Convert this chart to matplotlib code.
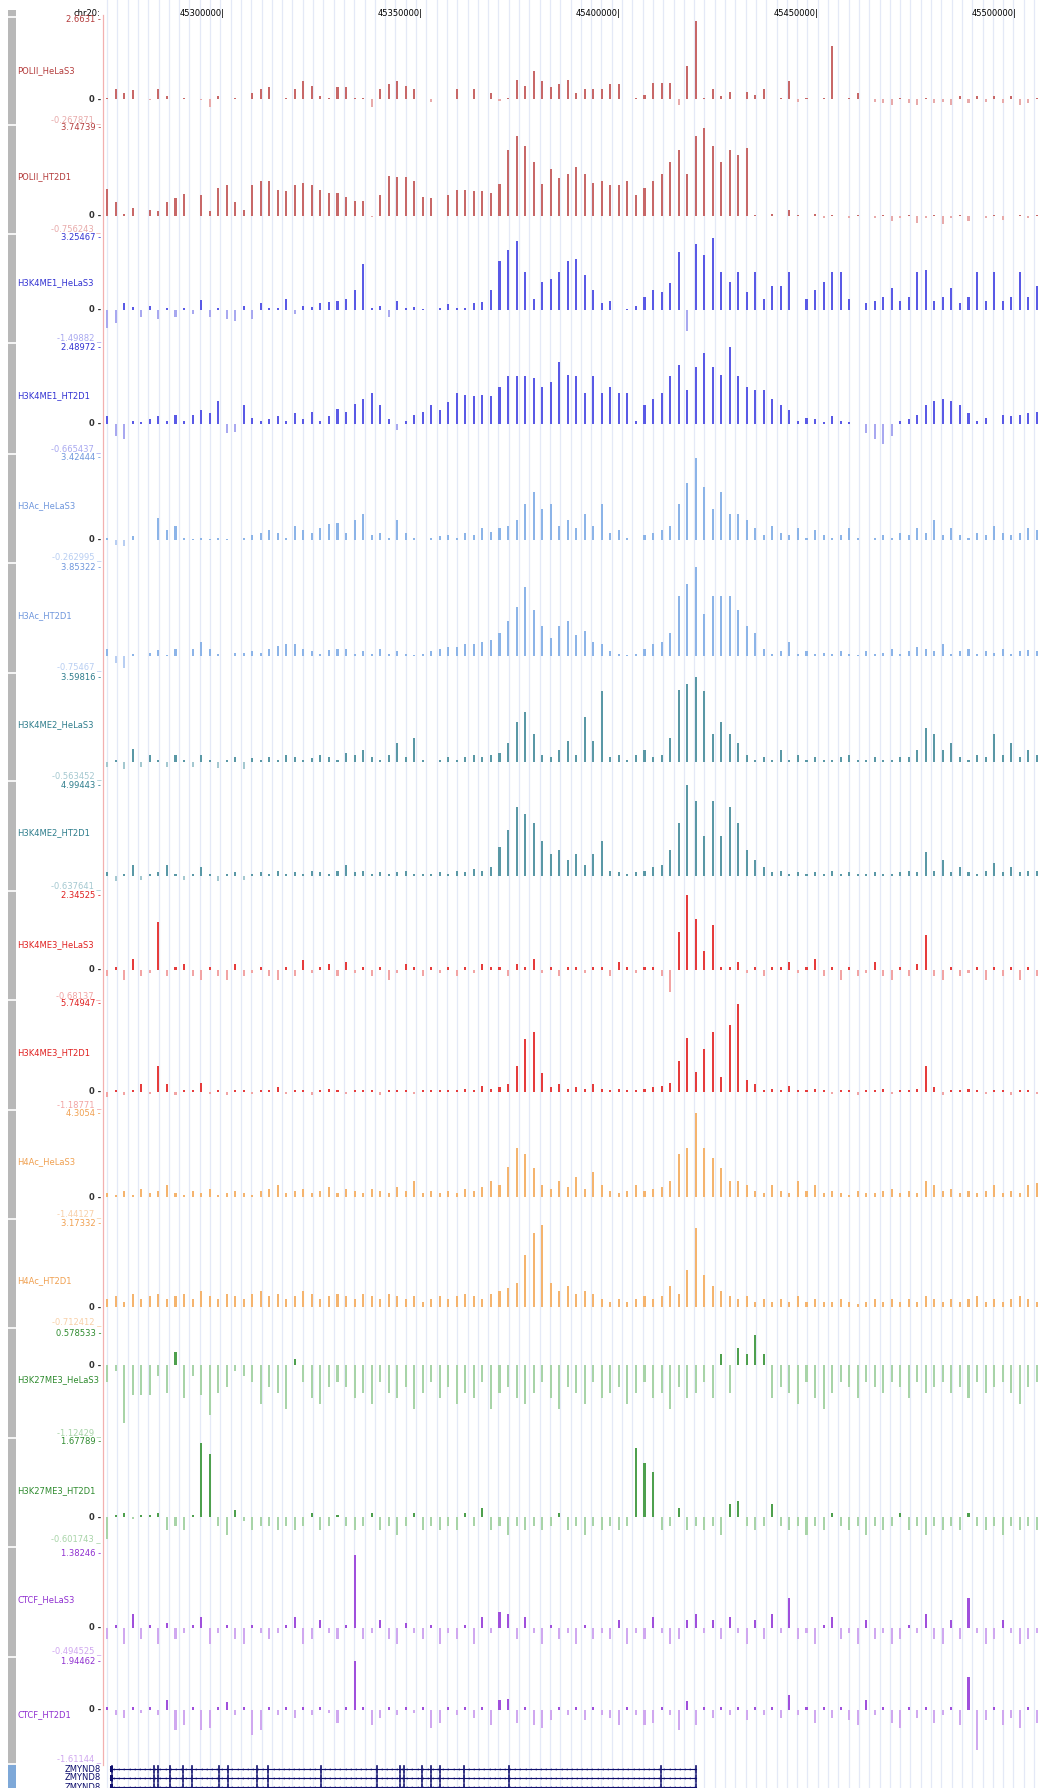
import numpy as np
import matplotlib
matplotlib.use("Agg")
import matplotlib.pyplot as plt

# ---- data --------------------------------------------------------------
# genome window (chr20, bp) and ruler ticks
view_start = 45269186
view_end = 45506294
ruler_ticks = [45300000, 45350000, 45400000, 45450000, 45500000]

track_names = ["POLII_HeLaS3", "POLII_HT2D1", "H3K4ME1_HeLaS3", "H3K4ME1_HT2D1",
               "H3Ac_HeLaS3", "H3Ac_HT2D1", "H3K4ME2_HeLaS3", "H3K4ME2_HT2D1",
               "H3K4ME3_HeLaS3", "H3K4ME3_HT2D1", "H4Ac_HeLaS3", "H4Ac_HT2D1",
               "H3K27ME3_HeLaS3", "H3K27ME3_HT2D1", "CTCF_HeLaS3", "CTCF_HT2D1"]
track_max = ["2.6631", "3.74739", "3.25467", "2.48972", "3.42444", "3.85322",
             "3.59816", "4.99443", "2.34525", "5.74947", "4.3054", "3.17332",
             "0.578533", "1.67789", "1.38246", "1.94462"]
track_min = ["-0.267871", "-0.756243", "-1.49882", "-0.665437", "-0.262995",
             "-0.75467", "-0.563452", "-0.637641", "-0.68137", "-1.18771",
             "-1.44127", "-0.712412", "-1.12429", "-0.601743", "-0.494525",
             "-1.61144"]

# signal per 2.16 kb bin, 110 bins across the window
pol2_hela = [0.05, 0.35, 0.2, 0.3, 0, -0.05, 0.35, 0.1, 0, 0.05,
             0, -0.05, -0.26, 0.1, 0, 0.05, 0, 0.2, 0.35, 0.4,
             0, 0.05, 0.35, 0.6, 0.45, 0.1, 0.05, 0.4, 0.4, 0.05,
             0.05, -0.26, 0.35, 0.5, 0.6, 0.45, 0.35, 0, -0.1, 0,
             0, 0.35, 0, 0.35, 0, 0.2, -0.08, 0.05, 0.65, 0.45,
             0.95, 0.6, 0.4, 0.5, 0.65, 0.2, 0.35, 0.35, 0.35, 0.5,
             0.5, 0, 0.05, 0.15, 0.55, 0.55, 0.55, -0.2, 1.1, 2.63,
             0.05, 0.35, 0.1, 0.25, 0, 0.25, 0.15, 0.35, 0, 0.05,
             0.6, -0.1, 0.05, 0, 0.05, 1.8, 0, 0.05, 0.2, 0,
             -0.1, -0.15, -0.2, 0.05, -0.15, -0.2, 0.05, -0.15, -0.1, -0.2,
             0.1, -0.15, 0.1, -0.1, 0.1, -0.15, 0.1, -0.2, -0.15, 0.05]
pol2_ht2d1 = [1.13, 0.6, 0.1, 0.35, 0, 0.25, 0.2, 0.6, 0.75, 0.95,
              0, 0.9, 0.2, 1.2, 1.3, 0.6, 0.25, 1.3, 1.5, 1.5,
              1.1, 1.05, 1.3, 1.4, 1.3, 1.1, 1.0, 1.0, 0.8, 0.65,
              0.65, -0.05, 0.9, 1.7, 1.65, 1.65, 1.5, 0.8, 0.75, 0,
              0.9, 1.1, 1.1, 1.05, 1.05, 1.0, 1.35, 2.8, 3.4, 3.0,
              2.3, 1.35, 2.0, 1.6, 1.8, 2.07, 1.8, 1.4, 1.5, 1.3,
              1.3, 1.5, 0.9, 1.2, 1.5, 1.8, 2.3, 2.8, 1.8, 3.4,
              3.74, 3.0, 2.3, 2.8, 2.6, 2.9, 0.05, 0, 0.1, 0,
              0.25, 0.05, 0, 0.1, -0.1, 0.05, 0, -0.1, 0.05, 0,
              -0.1, 0.05, -0.2, -0.1, 0.05, -0.3, -0.1, 0.05, -0.35, -0.1,
              0.05, -0.2, 0, -0.1, 0.05, -0.15, 0, 0.05, -0.1, 0.05]
h3k4me1_hela = [-0.8, -0.6, 0.3, 0.15, -0.3, 0.2, -0.4, 0.1, -0.3, 0.1,
                -0.2, 0.45, -0.3, 0.1, -0.4, -0.5, 0.2, -0.4, 0.3, 0.1,
                0.1, 0.5, -0.2, 0.2, 0.15, 0.3, 0.35, 0.4, 0.5, 0.9,
                2.1, 0.1, 0.2, -0.3, 0.4, 0.1, 0.15, 0.05, 0, 0.1,
                0.25, 0.1, 0.1, 0.3, 0.35, 0.9, 2.2, 2.7, 3.1, 1.7,
                0.5, 1.25, 1.4, 1.7, 2.2, 2.3, 1.6, 0.9, 0.3, 0.4,
                0, 0.05, 0.2, 0.6, 0.9, 0.8, 1.2, 2.6, -0.95, 3.0,
                2.5, 3.25, 1.7, 1.25, 1.7, 0.8, 1.7, 0.5, 1.1, 1.1,
                1.7, 0, 0.5, 0.9, 1.25, 1.7, 1.7, 0.5, 0, 0.3,
                0.4, 0.6, 1.0, 0.4, 0.6, 1.7, 1.8, 0.4, 0.6, 1.0,
                0.3, 0.6, 1.7, 0.4, 1.7, 0.4, 0.6, 1.7, 0.6, 1.1]
h3k4me1_ht2d1 = [0.25, -0.4, -0.5, 0.1, 0.05, 0.15, 0.25, 0.1, 0.3, 0.1,
                 0.3, 0.45, 0.35, 0.75, -0.3, -0.25, 0.6, 0.2, 0.1, 0.15,
                 0.25, 0.1, 0.35, 0.15, 0.4, 0.1, 0.25, 0.5, 0.4, 0.65,
                 0.8, 1.0, 0.6, 0.15, -0.2, 0.1, 0.3, 0.4, 0.6, 0.45,
                 0.7, 1.0, 0.95, 0.9, 0.95, 0.9, 1.2, 1.55, 1.55, 1.55,
                 1.5, 1.2, 1.35, 2.0, 1.6, 1.55, 1.0, 1.55, 1.0, 1.2,
                 1.0, 1.0, 0.1, 0.6, 0.8, 1.0, 1.55, 1.9, 1.1, 1.85,
                 2.3, 1.85, 1.6, 2.49, 1.55, 1.2, 1.1, 1.1, 0.8, 0.6,
                 0.45, 0.1, 0.2, 0.15, 0.05, 0.25, 0.1, 0.05, 0, -0.3,
                 -0.5, -0.65, -0.4, 0.1, 0.15, 0.3, 0.6, 0.75, 0.8, 0.75,
                 0.6, 0.35, 0.1, 0.2, 0, 0.3, 0.25, 0.3, 0.35, 0.4]
h3ac_hela = [0.1, -0.2, -0.25, 0.15, 0, 0, 0.9, 0.4, 0.6, 0.1,
             0.05, 0.1, 0.05, 0.1, 0.05, 0, 0.1, 0.2, 0.3, 0.4,
             0.3, 0.1, 0.6, 0.4, 0.3, 0.5, 0.65, 0.7, 0.3, 0.85,
             1.1, 0.2, 0.3, 0.1, 0.85, 0.3, 0.1, 0, 0.1, 0.15,
             0.2, 0.1, 0.3, 0.2, 0.5, 0.35, 0.5, 0.6, 0.85, 1.5,
             2.0, 1.3, 1.5, 0.6, 0.85, 0.5, 1.1, 0.6, 1.5, 0.3,
             0.4, 0.1, 0, 0.2, 0.3, 0.4, 0.6, 1.5, 2.4, 3.42,
             2.2, 1.3, 2.0, 1.1, 1.1, 0.85, 0.5, 0.2, 0.6, 0.3,
             0.2, 0.5, 0.1, 0.4, 0.2, 0.1, 0.2, 0.5, 0.1, 0,
             0.1, 0.2, 0.1, 0.3, 0.2, 0.5, 0.3, 0.85, 0.2, 0.5,
             0.2, 0.1, 0.3, 0.2, 0.6, 0.3, 0.2, 0.3, 0.5, 0.4]
h3ac_ht2d1 = [0.3, -0.3, -0.5, 0.1, 0, 0.15, 0.25, 0.05, 0.3, 0,
              0.3, 0.6, 0.3, 0.1, 0, 0.15, 0.15, 0.2, 0.15, 0.3,
              0.45, 0.5, 0.5, 0.3, 0.2, 0.1, 0.25, 0.3, 0.3, 0.1,
              0.2, 0.1, 0.3, 0.1, 0.2, 0.1, 0.05, 0.1, 0.2, 0.3,
              0.4, 0.4, 0.5, 0.5, 0.6, 0.7, 1.0, 1.5, 2.1, 3.0,
              2.0, 1.3, 0.8, 1.3, 1.5, 0.9, 1.1, 0.6, 0.5, 0.2,
              0.1, 0.05, 0.1, 0.3, 0.5, 0.6, 1.0, 2.6, 3.1, 3.85,
              1.8, 2.6, 2.6, 2.6, 2.0, 1.3, 1.0, 0.3, 0.1, 0.2,
              0.6, 0.1, 0.2, 0.1, 0.15, 0.1, 0.2, 0.1, 0.05, 0.2,
              0.1, 0.15, 0.3, 0.1, 0.2, 0.4, 0.3, 0.2, 0.5, 0.1,
              0.2, 0.3, 0.1, 0.2, 0.15, 0.3, 0.1, 0.2, 0.25, 0.2]
h3k4me2_hela = [-0.2, 0.1, -0.3, 0.55, -0.2, 0.3, 0.1, -0.2, 0.3, 0.1,
                -0.2, 0.3, 0.1, -0.25, 0.1, 0.2, -0.3, 0.15, 0.1, 0.2,
                0.1, 0.3, 0.2, 0.1, 0.15, 0.3, 0.2, 0.1, 0.4, 0.3,
                0.5, 0.2, 0.1, 0.3, 0.8, 0.2, 1.0, 0.1, 0, 0.1,
                0.2, 0.1, 0.2, 0.3, 0.2, 0.3, 0.4, 0.8, 1.7, 2.1,
                1.2, 0.3, 0.2, 0.5, 0.9, 0.3, 1.9, 0.9, 3.0, 0.2,
                0.3, 0.1, 0.3, 0.5, 0.2, 0.3, 1.0, 3.05, 3.3, 3.6,
                3.0, 1.2, 1.7, 1.2, 0.8, 0.3, 0.1, 0.2, 0.1, 0.5,
                0.1, 0.3, 0.1, 0.2, 0.1, 0.1, 0.2, 0.3, 0.1, 0.1,
                0.2, 0.1, 0.1, 0.2, 0.2, 0.5, 1.45, 1.2, 0.5, 0.8,
                0.2, 0.1, 0.3, 0.2, 1.2, 0.3, 0.8, 0.2, 0.5, 0.3]
h3k4me2_ht2d1 = [0.2, -0.3, 0.1, 0.6, -0.2, 0.1, 0.2, 0.6, 0.1, -0.2,
                 0.1, 0.5, 0.1, -0.3, 0.1, 0.2, -0.2, 0.1, 0.2, 0.1,
                 0.3, 0.1, 0.2, 0.1, 0.3, 0.2, 0.1, 0.3, 0.6, 0.2,
                 0.3, 0.1, 0.2, 0.1, 0.2, 0.3, 0.1, 0.1, 0.1, 0.2,
                 0.1, 0.3, 0.2, 0.4, 0.3, 0.5, 1.6, 2.5, 3.8, 3.4,
                 2.9, 1.9, 1.2, 1.4, 0.9, 1.2, 0.6, 1.2, 1.9, 0.3,
                 0.2, 0.1, 0.2, 0.3, 0.5, 0.6, 1.4, 2.9, 4.99, 4.1,
                 2.2, 4.1, 2.2, 3.8, 2.9, 1.4, 0.9, 0.5, 0.2, 0.3,
                 0.1, 0.2, 0.1, 0.2, 0.1, 0.3, 0.1, 0.2, 0.1, 0.1,
                 0.2, 0.1, 0.1, 0.2, 0.3, 0.2, 1.3, 0.3, 0.9, 0.2,
                 0.5, 0.2, 0.1, 0.3, 0.7, 0.2, 0.5, 0.2, 0.3, 0.3]
h3k4me3_hela = [-0.2, 0.1, -0.3, 0.35, -0.2, -0.1, 1.5, -0.2, 0.1, 0.2,
                -0.2, -0.3, 0.1, -0.2, -0.3, 0.2, -0.2, -0.1, 0.1, -0.2,
                -0.3, 0.1, -0.2, 0.3, -0.1, 0.1, 0.2, -0.2, 0.25, -0.1,
                0.1, -0.2, 0.1, -0.3, -0.1, 0.2, 0.1, -0.2, 0.1, -0.1,
                0.1, -0.2, 0.1, -0.1, 0.2, 0.1, 0.1, -0.2, 0.2, 0.1,
                0.35, -0.1, 0.1, -0.2, 0.1, 0.1, -0.1, 0.1, 0.1, -0.2,
                0.25, 0.1, -0.1, 0.1, 0.1, -0.2, -0.7, 1.2, 2.35, 1.6,
                0.6, 1.4, 0.1, 0.1, 0.25, -0.1, 0.1, -0.2, 0.1, 0.1,
                0.25, -0.1, 0.1, 0.35, -0.2, 0.1, -0.3, 0.1, -0.2, -0.1,
                0.25, -0.2, -0.3, 0.1, -0.2, 0.2, 1.1, -0.2, -0.3, 0.1,
                -0.2, -0.1, 0.1, -0.3, 0.1, -0.2, 0.1, -0.3, 0.1, -0.2]
h3k4me3_ht2d1 = [-0.3, 0.1, -0.2, 0.1, 0.5, -0.1, 1.7, 0.5, -0.2, 0.1,
                 0.1, 0.6, -0.1, 0.1, -0.2, 0.1, 0.1, -0.1, 0.1, 0.1,
                 0.3, -0.1, 0.1, 0.1, -0.2, 0.1, 0.2, 0.1, -0.1, 0.1,
                 0.1, 0.1, -0.2, 0.1, 0.1, 0.15, -0.1, 0.1, 0.1, 0.1,
                 0.1, 0.1, 0.2, 0.1, 0.4, 0.2, 0.3, 0.5, 1.7, 3.4,
                 3.9, 1.2, 0.3, 0.5, 0.2, 0.3, 0.2, 0.5, 0.2, 0.1,
                 0.2, 0.1, 0.1, 0.2, 0.3, 0.4, 0.6, 2.0, 3.5, 1.3,
                 2.8, 3.9, 1.0, 4.3, 5.7, 0.8, 0.5, 0.1, 0.2, 0.1,
                 0.4, 0.1, 0.1, 0.2, 0.1, -0.1, 0.1, 0.1, -0.2, 0.1,
                 0.1, 0.2, -0.1, 0.1, 0.1, 0.2, 1.7, 0.3, -0.2, 0.1,
                 0.1, 0.2, 0.1, -0.1, 0.1, 0.1, -0.2, 0.1, 0.1, -0.1]
h4ac_hela = [0.2, 0.1, 0.3, 0.1, 0.4, 0.2, 0.3, 0.6, 0.2, 0.1,
             0.3, 0.2, 0.4, 0.1, 0.2, 0.3, 0.2, 0.1, 0.3, 0.4,
             0.6, 0.2, 0.3, 0.4, 0.2, 0.3, 0.5, 0.2, 0.4, 0.3,
             0.2, 0.4, 0.3, 0.2, 0.5, 0.3, 0.8, 0.2, 0.3, 0.2,
             0.3, 0.2, 0.4, 0.3, 0.5, 0.8, 0.6, 1.55, 2.5, 2.2,
             1.5, 0.6, 0.4, 0.8, 0.5, 1.0, 0.4, 1.3, 0.6, 0.3,
             0.2, 0.3, 0.6, 0.3, 0.4, 0.5, 0.8, 2.2, 2.5, 4.3,
             2.5, 2.0, 1.5, 0.8, 0.8, 0.6, 0.3, 0.2, 0.6, 0.3,
             0.2, 0.8, 0.3, 0.6, 0.2, 0.3, 0.2, 0.1, 0.3, 0.2,
             0.2, 0.3, 0.4, 0.2, 0.3, 0.2, 0.8, 0.6, 0.3, 0.4,
             0.2, 0.3, 0.2, 0.3, 0.6, 0.2, 0.3, 0.2, 0.6, 0.7]
h4ac_ht2d1 = [0.3, 0.4, 0.2, 0.5, 0.3, 0.4, 0.5, 0.3, 0.4, 0.5,
              0.3, 0.6, 0.4, 0.3, 0.5, 0.4, 0.3, 0.5, 0.6, 0.4,
              0.5, 0.3, 0.4, 0.6, 0.5, 0.3, 0.4, 0.5, 0.4, 0.3,
              0.5, 0.4, 0.3, 0.5, 0.4, 0.3, 0.4, 0.2, 0.3, 0.4,
              0.3, 0.4, 0.5, 0.4, 0.3, 0.5, 0.6, 0.7, 0.9, 1.95,
              2.8, 3.1, 0.9, 0.6, 0.8, 0.5, 0.6, 0.5, 0.3, 0.2,
              0.3, 0.2, 0.3, 0.4, 0.3, 0.4, 0.8, 0.5, 1.4, 3.0,
              1.2, 0.8, 0.6, 0.4, 0.3, 0.4, 0.2, 0.3, 0.2, 0.3,
              0.2, 0.4, 0.2, 0.3, 0.2, 0.2, 0.3, 0.2, 0.1, 0.2,
              0.3, 0.2, 0.3, 0.2, 0.3, 0.2, 0.4, 0.3, 0.2, 0.3,
              0.2, 0.3, 0.4, 0.2, 0.3, 0.2, 0.3, 0.4, 0.3, 0.2]
h3k27me3_hela = [-0.3, -0.1, -1.05, -0.55, -0.55, -0.55, -0.2, -0.5, 0.23, -0.6,
                 -0.2, -0.55, -0.9, -0.5, -0.4, -0.1, -0.2, -0.3, -0.7, -0.4,
                 -0.5, -0.8, 0.1, -0.3, -0.6, -0.7, -0.4, -0.3, -0.4, -0.6,
                 -0.5, -0.7, -0.3, -0.5, -0.6, -0.4, -0.8, -0.5, -0.3, -0.6,
                 -0.4, -0.7, -0.5, -0.6, -0.3, -0.8, -0.5, -0.4, -0.6, -0.7,
                 -0.5, -0.3, -0.6, -0.8, -0.4, -0.5, -0.7, -0.3, -0.6, -0.5,
                 -0.4, -0.7, -0.5, -0.3, -0.6, -0.5, -0.8, -0.4, -0.6, -0.5,
                 -0.3, -0.6, 0.2, -0.5, 0.3, 0.2, 0.55, 0.2, -0.6, -0.4,
                 -0.5, -0.7, -0.3, -0.6, -0.8, -0.5, -0.3, -0.4, -0.6, -0.3,
                 -0.4, -0.5, -0.3, -0.4, -0.6, -0.3, -0.5, -0.4, -0.3, -0.5,
                 -0.4, -0.6, -0.3, -0.5, -0.4, -0.3, -0.5, -0.7, -0.4, -0.3]
h3k27me3_ht2d1 = [-0.5, 0.05, 0.1, -0.05, 0.05, 0.05, 0.1, -0.3, -0.2, -0.3,
                  0.05, 1.65, 1.4, -0.2, -0.4, 0.15, -0.1, -0.3, -0.2, -0.2,
                  -0.3, -0.2, -0.3, -0.2, 0.1, -0.3, -0.2, 0.05, -0.2, -0.3,
                  -0.2, 0.1, -0.3, -0.2, -0.4, -0.2, 0.1, -0.3, -0.2, -0.3,
                  -0.2, -0.3, 0.1, -0.2, 0.2, -0.3, -0.2, -0.4, -0.2, -0.3,
                  -0.2, -0.3, -0.2, 0.1, -0.3, -0.2, -0.4, -0.2, -0.3, -0.2,
                  -0.3, -0.2, 1.55, 1.2, 1.0, -0.3, -0.2, 0.2, -0.3, -0.2,
                  -0.3, -0.2, -0.4, 0.3, 0.35, -0.2, -0.3, -0.2, 0.3, -0.2,
                  -0.3, -0.2, -0.4, -0.2, -0.3, 0.1, -0.2, -0.3, -0.2, -0.4,
                  -0.2, -0.3, -0.2, 0.1, -0.3, -0.2, -0.4, -0.2, -0.3, -0.2,
                  -0.3, 0.1, -0.2, -0.3, -0.2, -0.4, -0.2, -0.3, -0.2, -0.3]
ctcf_hela = [-0.2, 0.05, -0.3, 0.25, -0.2, 0.05, -0.3, 0.1, -0.2, -0.1,
             0.05, 0.2, -0.3, -0.1, 0.05, -0.2, -0.3, 0.05, -0.1, -0.2,
             -0.1, 0.05, 0.2, -0.3, -0.2, 0.15, -0.1, -0.2, 0.05, 1.34,
             -0.2, -0.1, 0.15, -0.2, -0.3, 0.1, -0.1, -0.2, 0.05, -0.3,
             -0.1, -0.2, 0.05, -0.3, 0.2, -0.1, 0.3, 0.25, -0.2, 0.2,
             -0.1, -0.3, 0.05, -0.2, -0.1, -0.3, 0.05, -0.2, -0.1, -0.2,
             0.15, -0.3, -0.1, -0.2, 0.2, -0.1, -0.3, -0.2, 0.15, 0.25,
             -0.1, 0.15, -0.2, 0.2, -0.1, -0.3, 0.15, -0.2, 0.25, -0.1,
             0.55, -0.2, -0.1, -0.3, 0.05, 0.2, -0.2, -0.1, -0.3, 0.15,
             -0.2, -0.1, -0.3, -0.2, 0.05, -0.1, 0.25, -0.2, -0.3, 0.15,
             -0.2, 0.55, -0.1, -0.3, -0.2, 0.15, -0.1, -0.3, -0.2, -0.1]
ctcf_ht2d1 = [0.1, -0.2, -0.3, 0.1, -0.1, 0.1, -0.2, 0.4, -0.8, -0.6,
              0.1, -0.8, -0.7, 0.1, 0.3, -0.2, 0.1, -1.0, -0.8, 0.1,
              -0.2, 0.1, -0.3, 0.1, -0.2, 0.1, -0.1, -0.5, 0.1, 1.94,
              0.1, -0.6, -0.3, 0.1, -0.2, 0.1, -0.1, 0.1, -0.7, -0.5,
              0.1, -0.2, 0.1, -0.3, 0.1, -0.6, 0.4, 0.45, -0.5, 0.1,
              -0.6, -0.7, -0.4, 0.1, -0.2, 0.1, -0.4, 0.1, -0.2, -0.3,
              -0.6, 0.1, -0.2, -0.6, -0.5, 0.1, -0.2, -0.8, 0.35, -0.6,
              0.1, -0.3, 0.1, -0.2, 0.1, -0.4, 0.1, -0.2, 0.1, -0.3,
              0.6, -0.2, 0.1, -0.5, 0.1, -0.3, 0.1, -0.4, -0.6, 0.4,
              -0.2, 0.1, -0.5, -0.7, 0.1, -0.3, 0.1, -0.5, -0.2, 0.1,
              -0.6, 1.3, -1.6, -0.4, 0.1, -0.6, -0.3, -0.7, 0.1, -0.5]

track_values = [pol2_hela, pol2_ht2d1, h3k4me1_hela, h3k4me1_ht2d1,
                h3ac_hela, h3ac_ht2d1, h3k4me2_hela, h3k4me2_ht2d1,
                h3k4me3_hela, h3k4me3_ht2d1, h4ac_hela, h4ac_ht2d1,
                h3k27me3_hela, h3k27me3_ht2d1, ctcf_hela, ctcf_ht2d1]

# ZMYND8 gene model (bp)
gene_start = 45270955
gene_end = 45419085
gene_exons = [45271461, 45282078, 45283089, 45286123, 45289408, 45291683,
              45298507, 45300783, 45308113, 45310894, 45324291, 45338448,
              45344261, 45345273, 45349823, 45352097, 45354372, 45360439,
              45371815, 45410237, 45419085]

# ---- styling / layout ---------------------------------------------------
W, H = 1041, 1788
X0 = 103  # left edge of the data area, px

# (top, zero, bottom) of every track in px
track_rows = [(20, 99, 121), (128, 216, 230), (238, 310, 339), (347, 424, 450),
              (458, 540, 558), (567, 656, 668), (677, 762, 777), (785, 876, 887),
              (895, 970, 997), (1003, 1092, 1106), (1113, 1197, 1215),
              (1223, 1307, 1323), (1333, 1365, 1434), (1442, 1517, 1540),
              (1553, 1628, 1652), (1661, 1710, 1760)]
label_y = [71, 177, 283, 396, 506, 616, 725, 833, 945, 1053, 1162, 1281,
           1380, 1491, 1600, 1715]
show_zero = [True, True, True, True, True, False, False, False,
             True, True, True, True, True, True, True, True]

mark_colors = {"POLII": ("#c86868", "#b43c3c", "#e8aaaa"),
               "H3K4ME1": ("#5a5ae6", "#3232d2", "#a8a8f0"),
               "H3Ac": ("#8cb4e8", "#6e96dc", "#b8cef2"),
               "H3K4ME2": ("#5a98a6", "#2e7d8c", "#a4c8d0"),
               "H3K4ME3": ("#e63c3c", "#e02020", "#f2a4a4"),
               "H4Ac": ("#f5b46e", "#f0a050", "#f8d0a8"),
               "H3K27ME3": ("#4ea04e", "#2e8b2e", "#a8d4a8"),
               "CTCF": ("#a050dc", "#9030d0", "#d0a8f0")}

FS = 6.0
fig = plt.figure(figsize=(W / 100, H / 100), dpi=100)

# full-figure overlay in pixel coordinates (left labels, side bar)
ov = fig.add_axes([0, 0, 1, 1])
ov.set_xlim(0, W)
ov.set_ylim(H, 0)
ov.axis("off")

# genome-coordinate background (guidelines, ruler, gene)
bg = fig.add_axes([X0 / W, 0, (W - X0) / W, 1])
bg.set_xlim(view_start, view_end)
bg.set_ylim(H, 0)
bg.axis("off")

bp_per_px = (view_end - view_start) / (W - X0)
for g in np.arange(view_start + 4 * bp_per_px, view_end, 10.3 * bp_per_px):
    bg.axvline(g, color="#e4e9f7", lw=0.9, zorder=0)

# ruler
ov.text(100, 13, "chr20:", ha="right", va="center", fontsize=FS, color="black")
for t in ruler_ticks:
    bg.text(t, 13, f"{t}|", ha="right", va="center", fontsize=FS, color="black")

# left red line
ov.plot([X0, X0], [15, 1765], color="#f2b0b0", lw=0.9)

# side bar with separators
ov.add_patch(plt.Rectangle((8, 10), 8, 1755, color="#b8b8b8", lw=0))
ov.add_patch(plt.Rectangle((8, 1765), 8, 23, color="#7ea8d8", lw=0))
seps = [17] + [(track_rows[k][2] + track_rows[k + 1][0]) / 2 for k in range(15)] + [1764]
for s in seps:
    ov.plot([7, 17], [s, s], color="white", lw=1.2)

bin_w = (view_end - view_start) / len(pol2_hela)
centers = view_start + (np.arange(len(pol2_hela)) + 0.5) * bin_w

for k, name in enumerate(track_names):
    bar_c, txt_c, pale_c = mark_colors[name.split("_")[0]]
    top, zero, bot = track_rows[k]
    vmax = float(track_max[k])
    scale = (zero - top) / vmax
    ax = fig.add_axes([X0 / W, 1 - bot / H, (W - X0) / W, (bot - top) / H])
    ax.set_xlim(view_start, view_end)
    ax.set_ylim(-(bot - zero) / scale, vmax)
    ax.patch.set_alpha(0)
    ax.axis("off")
    v = np.array(track_values[k], dtype=float)
    pos = v > 0
    neg = v < 0
    ax.bar(centers[pos], v[pos], width=bin_w * 0.24, color=bar_c, lw=0)
    ax.bar(centers[neg], v[neg], width=bin_w * 0.24, color=pale_c, lw=0)

    ov.text(101, top, f"{track_max[k]} -", ha="right", va="center",
            fontsize=FS, color=txt_c)
    ov.text(101, bot - 1, f"{track_min[k]} _", ha="right", va="center",
            fontsize=FS, color=pale_c)
    if show_zero[k]:
        ov.text(101, zero, "0 -", ha="right", va="center", fontsize=FS,
                color="#303030", fontweight="bold")
    ov.text(17, label_y[k], name, ha="left", va="center", fontsize=FS,
            color=txt_c)

# gene track: three ZMYND8 isoforms, the last one cut by the image edge
navy = "#10106e"
for row_y in [1769, 1778, 1787]:
    ov.text(101, row_y, "ZMYND8", ha="right", va="center", fontsize=FS,
            color=navy)
    bg.plot([gene_start, gene_end], [row_y, row_y], color=navy, lw=0.8)
    chev = np.arange(gene_start + 800, gene_end, 1300)
    bg.plot(chev, [row_y] * len(chev), ls="none", marker="<", ms=1.6,
            color=navy, mew=0)
    for e in gene_exons:
        bg.plot([e, e], [row_y - 3.5, row_y + 3.5], color=navy, lw=1.2)
    bg.add_patch(plt.Rectangle((gene_start, row_y - 3), 3 * bp_per_px, 6,
                               color=navy, lw=0))

fig.savefig("out.png", dpi=100)
